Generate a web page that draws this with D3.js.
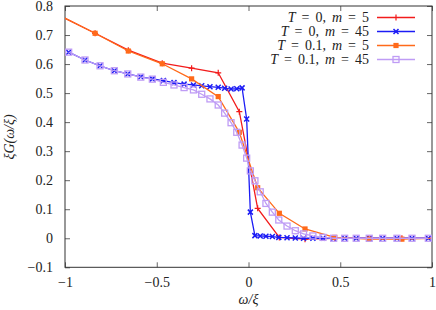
<!DOCTYPE html>
<html>
<head>
<meta charset="utf-8">
<script src="https://cdn.jsdelivr.net/npm/d3@7"></script>
<style>
  body { margin: 0; background: #fff; }
</style>
</head>
<body>
<script>
// frequency grids
var omegaCoarse = [-1.03, -0.836, -0.655, -0.47, -0.31, -0.165, -0.05, 0.05, 0.168, 0.308, 0.47, 0.655, 0.836, 1.03];
var omegaFine = [-0.98, -0.891, -0.809, -0.731, -0.658, -0.587, -0.524, -0.464, -0.406, -0.351, -0.30, -0.255, -0.21, -0.165, -0.13, -0.095, -0.064, -0.035, -0.01,
	0.01, 0.035, 0.064, 0.095, 0.13, 0.165, 0.21, 0.255, 0.30, 0.351, 0.406, 0.464, 0.524, 0.587, 0.658, 0.731, 0.809, 0.891, 0.98];

// series values
var redT0m5 = [0.767, 0.706, 0.648, 0.603, 0.586, 0.570, 0.436, 0.103, 0.003, -0.003, 0.0, 0.0, 0.0, 0.0];
var blueT0m45 = [0.641, 0.614, 0.594, 0.577, 0.566, 0.556, 0.549, 0.543, 0.536, 0.531, 0.528, 0.525, 0.522, 0.520, 0.517, 0.514, 0.515, 0.518, 0.411,
	0.09, 0.009, 0.008, 0.007, 0.006, 0.003, 0.002, 0.001, 0, 0, 0, 0, 0, 0, 0, 0, 0, 0, 0];
var orangeT01m5 = [0.767, 0.706, 0.645, 0.601, 0.549, 0.488, 0.365, 0.174, 0.086, 0.032, 0.003, -0.003, -0.003, 0.0];
var purpleT01m45 = [0.641, 0.614, 0.594, 0.577, 0.566, 0.555, 0.548, 0.537, 0.528, 0.519, 0.511, 0.496, 0.480, 0.459, 0.431, 0.398, 0.365, 0.321, 0.276,
	0.232, 0.198, 0.160, 0.120, 0.090, 0.063, 0.042, 0.026, 0.015, 0.008, 0.003, 0.0, 0, 0, 0, 0, 0, 0, 0];

var xTicks = [-1, -0.5, 0, 0.5, 1];
var yTicks = [-0.1, 0, 0.1, 0.2, 0.3, 0.4, 0.5, 0.6, 0.7, 0.8];

var series = [
	{ T: '0', m: '5', x: omegaCoarse, y: redT0m5, color: '#f21c1c', marker: 'plus' },
	{ T: '0', m: '45', x: omegaFine, y: blueT0m45, color: '#1c1cf5', marker: 'cross' },
	{ T: '0.1', m: '5', x: omegaCoarse, y: orangeT01m5, color: '#ff6a1a', marker: 'fsquare' },
	{ T: '0.1', m: '45', x: omegaFine, y: purpleT01m45, color: '#bf9cf5', marker: 'osquare' }
];

var FONT = '"Liberation Serif", "DejaVu Serif", serif';
var width = 436, height = 310;
var margin = { top: 6, right: 4, bottom: 42.7, left: 65 };

var xScale = d3.scaleLinear().domain([-1, 1]).range([margin.left, width - margin.right]);
var yScale = d3.scaleLinear().domain([-0.1, 0.8]).range([height - margin.bottom, margin.top]);

var fmt = function(d) { return d3.format('')(d).replace('-', '\u2212'); };

var svg = d3.select('body').append('svg')
	.attr('width', width)
	.attr('height', height)
	.attr('font-family', FONT);

svg.append('defs').append('clipPath').attr('id', 'clip')
	.append('rect')
	.attr('x', margin.left).attr('y', margin.top)
	.attr('width', width - margin.left - margin.right)
	.attr('height', height - margin.top - margin.bottom);

// axes, ticks inward on all four sides
var tickLen = 5;
var axisStyle = function(g) {
	g.attr('font-family', FONT).attr('font-size', 14);
	g.select('.domain').remove();
	g.selectAll('line').attr('stroke', '#666');
	g.selectAll('text').attr('fill', '#222');
};
svg.append('g').attr('transform', 'translate(0,' + yScale(-0.1) + ')')
	.call(d3.axisBottom(xScale).tickValues(xTicks).tickSizeInner(-tickLen).tickSizeOuter(0).tickPadding(10).tickFormat(fmt))
	.call(axisStyle);
svg.append('g').attr('transform', 'translate(0,' + yScale(0.8) + ')')
	.call(d3.axisTop(xScale).tickValues(xTicks).tickSizeInner(-tickLen).tickSizeOuter(0).tickFormat(''))
	.call(axisStyle);
svg.append('g').attr('transform', 'translate(' + xScale(-1) + ',0)')
	.call(d3.axisLeft(yScale).tickValues(yTicks).tickSizeInner(-tickLen).tickSizeOuter(0).tickPadding(12).tickFormat(fmt))
	.call(axisStyle);
svg.append('g').attr('transform', 'translate(' + xScale(1) + ',0)')
	.call(d3.axisRight(yScale).tickValues(yTicks).tickSizeInner(-tickLen).tickSizeOuter(0).tickFormat(''))
	.call(axisStyle);

// frame
svg.append('rect')
	.attr('x', margin.left).attr('y', margin.top)
	.attr('width', width - margin.left - margin.right)
	.attr('height', height - margin.top - margin.bottom)
	.attr('fill', 'none').attr('stroke', '#333').attr('stroke-width', 1);

function drawMarker(g, kind, color) {
	if (kind === 'plus') {
		g.append('path').attr('d', 'M-3,0H3M0,-3V3').attr('stroke', color).attr('stroke-width', 1.2);
	} else if (kind === 'cross') {
		g.append('path').attr('d', 'M-2.5,-2.5L2.5,2.5M-2.5,2.5L2.5,-2.5').attr('stroke', color).attr('stroke-width', 1.5);
	} else if (kind === 'fsquare') {
		g.append('rect').attr('x', -2.6).attr('y', -2.6).attr('width', 5.2).attr('height', 5.2).attr('fill', color);
	} else {
		g.append('rect').attr('x', -3).attr('y', -3).attr('width', 6).attr('height', 6)
			.attr('fill', 'none').attr('stroke', color).attr('stroke-width', 1.3);
	}
}

var line = d3.line().x(function(d) { return xScale(d[0]); }).y(function(d) { return yScale(d[1]); });
var plot = svg.append('g').attr('clip-path', 'url(#clip)');

series.forEach(function(s) {
	var pts = s.x.map(function(x, i) { return [x, s.y[i]]; });
	plot.append('path').datum(pts)
		.attr('d', line)
		.attr('fill', 'none')
		.attr('stroke', s.color)
		.attr('stroke-width', 1.3);
	plot.selectAll(null).data(pts).enter().append('g')
		.attr('transform', function(d) { return 'translate(' + xScale(d[0]) + ',' + yScale(d[1]) + ')'; })
		.each(function() { drawMarker(d3.select(this), s.marker, s.color); });
});

// legend
var legend = svg.append('g');
series.forEach(function(s, i) {
	var y = 17.5 + i * 14;
	var t = legend.append('text').attr('x', 369).attr('y', y + 4.5).attr('text-anchor', 'end')
		.attr('font-size', 14).attr('fill', '#222').style('word-spacing', '2.5px');
	t.append('tspan').attr('font-style', 'italic').text('T');
	t.append('tspan').text(' = ' + s.T + ', ');
	t.append('tspan').attr('font-style', 'italic').text('m');
	t.append('tspan').text(' = ' + s.m);
	legend.append('line').attr('x1', 377).attr('x2', 415).attr('y1', y).attr('y2', y)
		.attr('stroke', s.color).attr('stroke-width', 1.3);
	drawMarker(legend.append('g').attr('transform', 'translate(396,' + y + ')'), s.marker, s.color);
});

// axis titles
svg.append('text').attr('x', xScale(0)).attr('y', 304).attr('text-anchor', 'middle')
	.attr('font-size', 14).attr('font-style', 'italic').attr('fill', '#222').text('\u03c9/\u03be');
svg.append('text').attr('transform', 'translate(14,137) rotate(-90)').attr('text-anchor', 'middle')
	.attr('font-size', 14).attr('font-style', 'italic').attr('fill', '#222').text('\u03beG(\u03c9/\u03be)');
</script>
</body>
</html>
